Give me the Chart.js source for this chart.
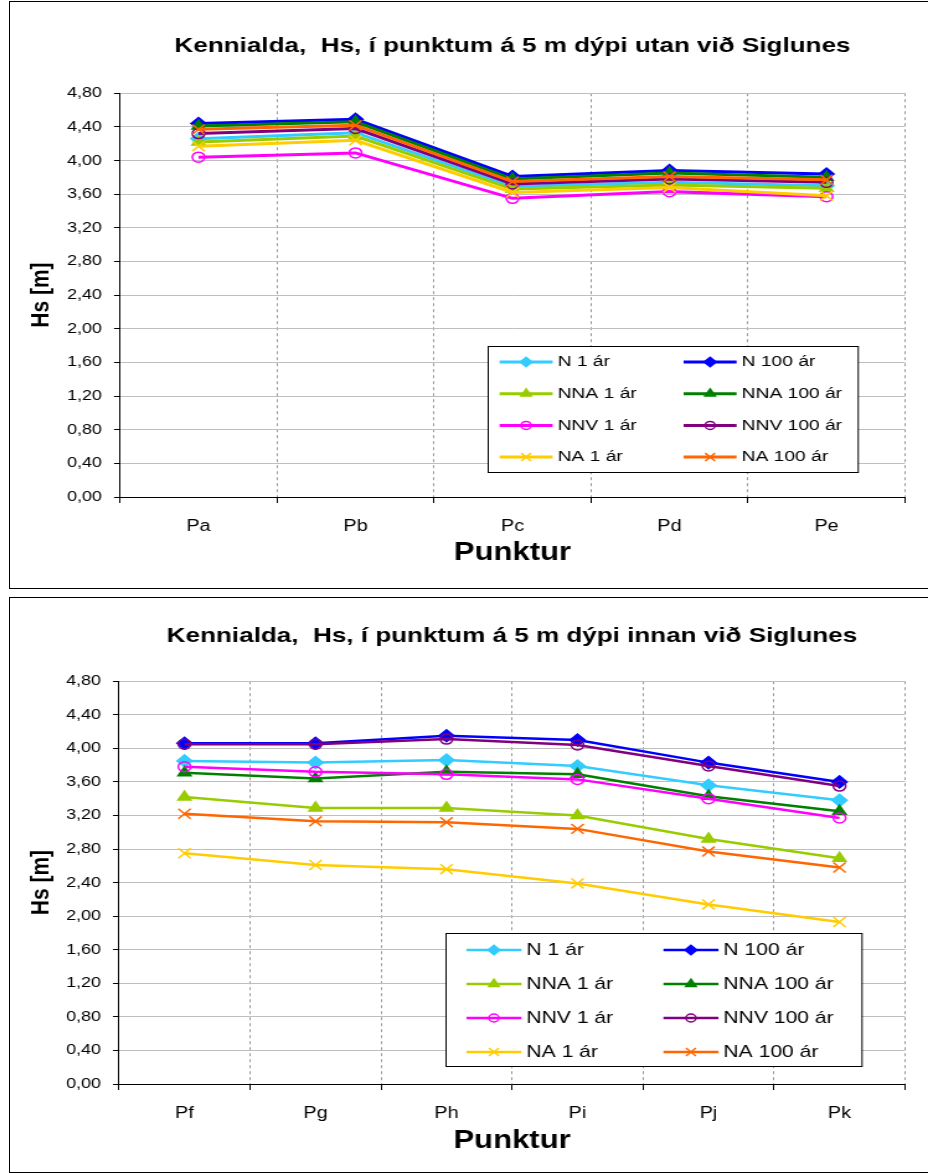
<!DOCTYPE html>
<html>
<head>
<meta charset="utf-8">
<title>Kennialda Hs við Siglunes</title>
<script src="https://cdn.jsdelivr.net/npm/chart.js"></script>
<style>
  body { margin: 0; background: #fff; }
  .rammi { position: absolute; left: 9px; width: 918px; border: 1px solid #000; background: #fff; }
  #rammi1 { top: 1px; height: 586px; }
  #rammi2 { top: 597px; height: 574px; }
  /* myndin er teygð á breiddina eins og afritið úr Excel */
  canvas { display: block; }
</style>
</head>
<body>
<div class="rammi" id="rammi1"><canvas id="utanChart" width="740" height="586" style="width:918px;height:586px"></canvas></div>
<div class="rammi" id="rammi2"><canvas id="innanChart" width="740" height="574" style="width:918px;height:574px"></canvas></div>
<script>
// gildi lesin af myndinni (Hs í metrum)
const punktarUtan = ["Pa", "Pb", "Pc", "Pd", "Pe"]
const utanN1 = [4.26, 4.33, 3.69, 3.74, 3.70]
const utanN100 = [4.44, 4.49, 3.81, 3.88, 3.84]
const utanNNA1 = [4.22, 4.29, 3.66, 3.71, 3.67]
const utanNNA100 = [4.41, 4.46, 3.78, 3.85, 3.80]
const utanNNV1 = [4.04, 4.09, 3.55, 3.63, 3.57]
const utanNNV100 = [4.32, 4.38, 3.72, 3.78, 3.74]
const utanNA1 = [4.17, 4.24, 3.62, 3.68, 3.58]
const utanNA100 = [4.37, 4.42, 3.75, 3.81, 3.77]

const punktarInnan = ["Pf", "Pg", "Ph", "Pi", "Pj", "Pk"]
const innanN1 = [3.85, 3.83, 3.86, 3.79, 3.56, 3.38]
const innanN100 = [4.06, 4.06, 4.15, 4.10, 3.83, 3.60]
const innanNNA1 = [3.42, 3.29, 3.29, 3.20, 2.92, 2.69]
const innanNNA100 = [3.71, 3.64, 3.72, 3.69, 3.43, 3.25]
const innanNNV1 = [3.78, 3.72, 3.69, 3.63, 3.40, 3.17]
const innanNNV100 = [4.05, 4.05, 4.11, 4.04, 3.79, 3.55]
const innanNA1 = [2.75, 2.61, 2.56, 2.39, 2.14, 1.93]
const innanNA100 = [3.22, 3.13, 3.12, 3.04, 2.77, 2.58]

const hsTicks = [0, 0.4, 0.8, 1.2, 1.6, 2.0, 2.4, 2.8, 3.2, 3.6, 4.0, 4.4, 4.8]
const heiti = ["N 1 ár", "N 100 ár", "NNA 1 ár", "NNA 100 ár", "NNV 1 ár", "NNV 100 ár", "NA 1 ár", "NA 100 ár"]

// útlit raðanna
const litir = ["#33CCFF", "#0000FF", "#99CC00", "#008000", "#FF00FF", "#800080", "#FFCC00", "#FF6600"]
const merki = ["rectRot", "rectRot", "triangle", "triangle", "circle", "circle", "crossRot", "crossRot"]
const staerd = [6, 6, 6, 6, 5, 5, 7, 7]

const letur = "'Liberation Sans', Arial, sans-serif"
const strekking = 918 / 740
// breidd á skjá -> breidd í canvas
function d(px){ return px / strekking }

function lagaSett(gogn, breidd){
  return gogn.map(function(rod, i){
    let hringur = merki[i] == "circle"
    return {
      label: heiti[i],
      data: rod,
      borderColor: litir[i],
      backgroundColor: litir[i],
      borderWidth: breidd,
      pointStyle: merki[i],
      pointRadius: staerd[i],
      pointBorderWidth: 1.5,
      pointBackgroundColor: hringur ? "rgba(0,0,0,0)" : litir[i],
      pointBorderColor: litir[i],
      order: gogn.length - i,   // seinni raðir ofan á eins og í Excel
      tension: 0
    }
  })
}

// skýringar inni í teiknisvæðinu
const skyring = {
  id: "skyring",
  afterDraw(chart, args, o){
    const ctx = chart.ctx
    const x0 = Math.round(o.left), y0 = Math.round(o.top)
    ctx.save()
    ctx.fillStyle = "#fff"
    ctx.fillRect(x0, y0, o.width, o.height)
    ctx.strokeStyle = "#000"
    ctx.lineWidth = 1
    ctx.strokeRect(x0 + 0.5, y0 + 0.5, o.width, o.height)
    ctx.font = o.fontSize + "px " + letur
    ctx.textBaseline = "middle"
    ctx.textAlign = "left"
    chart.data.datasets.forEach(function(ds, i){
      let rod = Math.floor(i / 2)
      let dalkur = i % 2
      let y = y0 + o.rowTop + rod * o.rowH
      let lx = x0 + o.colX[dalkur]
      ctx.strokeStyle = ds.borderColor
      ctx.lineWidth = ds.borderWidth
      ctx.beginPath()
      ctx.moveTo(lx, y)
      ctx.lineTo(lx + o.lineW, y)
      ctx.stroke()
      ctx.fillStyle = ds.pointBackgroundColor
      ctx.strokeStyle = ds.pointBorderColor
      ctx.lineWidth = ds.pointBorderWidth
      Chart.helpers.drawPoint(ctx, {pointStyle: ds.pointStyle, radius: ds.pointRadius * 0.8, rotation: 0, borderWidth: ds.pointBorderWidth}, lx + o.lineW / 2, y)
      ctx.fillStyle = "#000"
      ctx.fillText(ds.label, lx + o.lineW + d(5), y)
    })
    ctx.restore()
  }
}

function teikna(id, titill, punktar, gogn, s){
  const n = punktar.length
  return new Chart(id, {
    type: "line",
    data: {
      labels: punktar,
      datasets: lagaSett(gogn, s.breidd)
    },
    options: {
      responsive: false,
      animation: false,
      devicePixelRatio: 1,
      layout: { padding: { left: 0, right: s.haegri, top: 0, bottom: 0 } },
      plugins: {
        legend: { display: false },
        tooltip: { enabled: false },
        title: {
          display: true,
          text: titill,
          fullSize: false,
          color: "#000",
          font: { family: letur, size: 21, weight: "bold" },
          padding: { top: s.titillOfan, bottom: s.titillNedan }
        },
        skyring: s.skyring
      },
      scales: {
        x: {
          offset: true,
          grid: {
            offset: true,
            color: function(c){ return (c.index == 0 || c.index >= n) ? "rgba(0,0,0,0)" : "#9a9a9a" },
            tickColor: "#000",
            tickLength: 6,
            lineWidth: 1
          },
          border: { color: "#000", width: 1, dash: [3, 3] },
          ticks: { color: "#000", font: { family: letur, size: 16 }, padding: 14, maxRotation: 0 },
          title: {
            display: true,
            text: "Punktur",
            color: "#000",
            font: { family: letur, size: 25, weight: "bold" },
            padding: { top: 0, bottom: s.xTitillNedan }
          },
          afterFit: function(sc){ sc.height = s.xHaed }
        },
        y: {
          min: 0,
          max: 4.8,
          afterBuildTicks: function(sc){ sc.ticks = hsTicks.map(function(v){ return { value: v } }) },
          grid: { color: "#bfbfbf", tickColor: "#000", tickLength: d(6), lineWidth: 1 },
          border: { color: "#000", width: 1 },
          ticks: {
            color: "#000",
            font: { family: letur, size: 14.5 },
            padding: d(12),
            callback: function(v){ return v.toFixed(2).replace(".", ",") }
          },
          title: {
            display: true,
            text: "Hs [m]",
            color: "#000",
            font: { family: letur, size: 21, weight: "bold" },
            padding: { top: 13, bottom: 0 }
          },
          afterFit: function(sc){ sc.width = s.yBreidd }
        }
      }
    },
    plugins: [skyring]
  })
}

const utanChart = teikna("utanChart",
  "Kennialda,  Hs, í punktum á 5 m dýpi utan við Siglunes",
  punktarUtan,
  [utanN1, utanN100, utanNNA1, utanNNA100, utanNNV1, utanNNV100, utanNA1, utanNA100],
  {
    breidd: 3, haegri: 740 - d(895), yBreidd: d(110), xHaed: 91, xTitillNedan: 20,
    titillOfan: 32, titillNedan: 34,
    skyring: { left: d(477), top: 344, width: d(370), height: 126, rowTop: 16, rowH: 31.7,
      colX: [d(12), d(196)], lineW: d(53), fontSize: 15.5 }
  })

const innanChart = teikna("innanChart",
  "Kennialda,  Hs, í punktum á 5 m dýpi innan við Siglunes",
  punktarInnan,
  [innanN1, innanN100, innanNNA1, innanNNA100, innanNNV1, innanNNV100, innanNA1, innanNA100],
  {
    breidd: 2.5, haegri: 740 - d(895), yBreidd: d(109), xHaed: 88, xTitillNedan: 16,
    titillOfan: 26, titillNedan: 32,
    skyring: { left: d(435), top: 335, width: d(416), height: 133, rowTop: 17, rowH: 34,
      colX: [d(21), d(218)], lineW: d(55), fontSize: 17 }
  })
</script>
</body>
</html>
